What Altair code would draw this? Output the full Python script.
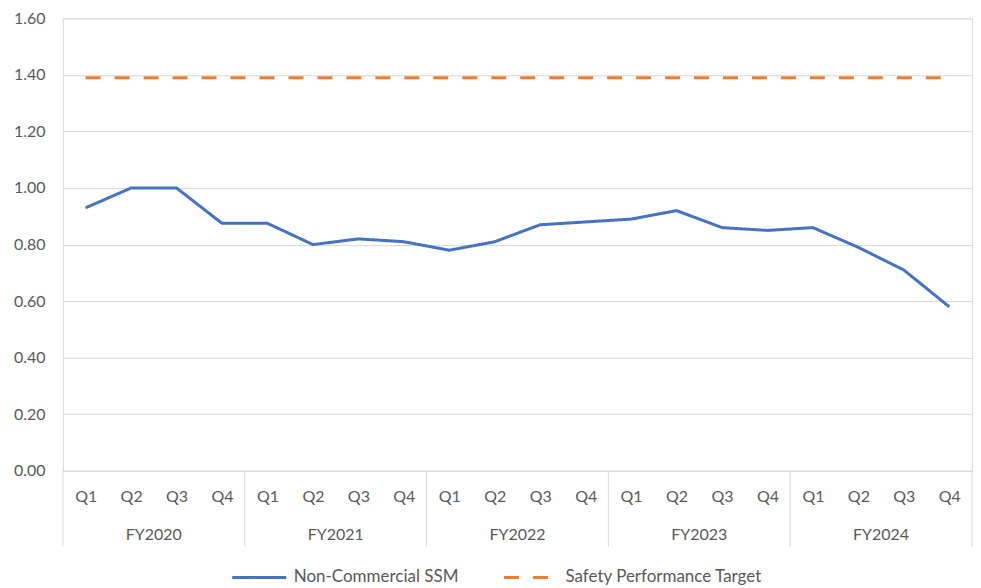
import altair as alt
import pandas as pd

# ---- data ----
fiscal_years = ["FY2020", "FY2021", "FY2022", "FY2023", "FY2024"]
quarters = ["Q1", "Q2", "Q3", "Q4"]
ssm_values = [0.93, 1.00, 1.00, 0.875, 0.875, 0.80, 0.82, 0.81, 0.78, 0.81,
              0.87, 0.88, 0.89, 0.92, 0.86, 0.85, 0.86, 0.79, 0.71, 0.58]
target_value = 1.39
series_names = ["Non-Commercial SSM", "Safety Performance Target"]
y_ticks = [0.0, 0.2, 0.4, 0.6, 0.8, 1.0, 1.2, 1.4, 1.6]

n = len(ssm_values)
nq = len(quarters)

rows = []
for i, v in enumerate(ssm_values):
    rows.append({"pos": i + 0.5, "value": v, "series": series_names[0]})
    rows.append({"pos": i + 0.5, "value": target_value, "series": series_names[1]})
df = pd.DataFrame(rows)

sep_df = pd.DataFrame({"pos": [nq * k for k in range(len(fiscal_years) + 1)]})
fy_df = pd.DataFrame({"pos": [nq * k + nq / 2 for k in range(len(fiscal_years))],
                      "fy": fiscal_years})

W, H = 910, 453
FONT = "Lato"
TXT = "#595959"
GRID = "#d9d9d9"
BLUE = "#4472C4"
ORANGE = "#ED7D31"

x_scale = alt.Scale(domain=[0, n], nice=False, zero=False)
q_expr = "[" + ",".join("'" + q + "'" for q in quarters) + "][floor(datum.value) % " + str(nq) + "]"
x_axis = alt.Axis(values=[i + 0.5 for i in range(n)], labelExpr=q_expr,
                  ticks=False, grid=False, domainColor=GRID, labelPadding=18,
                  labelFontSize=16, labelColor=TXT, labelFont=FONT, title=None)
x_enc = alt.X("pos:Q", scale=x_scale, axis=x_axis, title=None)

legend = alt.Legend(
    orient="none", legendX=186, legendY=549, direction="horizontal", title=None,
    symbolType="M-3,0H3", symbolSize=324, symbolStrokeWidth=3,
    labelFontSize=17, labelColor=TXT, labelFont=FONT, labelLimit=400,
    columnPadding=38, labelOffset=24,
)

lines = alt.Chart(df).mark_line(strokeWidth=3).encode(
    x=x_enc,
    y=alt.Y("value:Q", scale=alt.Scale(domain=[0, 1.6], nice=False),
            axis=alt.Axis(values=y_ticks, format=".2f", ticks=False, domain=False,
                          gridColor=GRID, labelPadding=18, labelFontSize=16,
                          labelColor=TXT, labelFont=FONT, title=None,
                          minExtent=55, maxExtent=55)),
    color=alt.Color("series:N", scale=alt.Scale(domain=series_names, range=[BLUE, ORANGE]),
                    legend=legend),
    strokeDash=alt.StrokeDash("series:N",
                              scale=alt.Scale(domain=series_names, range=[[1, 0], [15, 14]]),
                              legend=legend),
)

seps = alt.Chart(sep_df).mark_rule(color=GRID, strokeWidth=1).encode(
    x=x_enc,
    y=alt.value(H),
    y2=alt.value(H + 76),
)

fy_text = alt.Chart(fy_df).mark_text(fontSize=16, color=TXT, font=FONT, baseline="middle").encode(
    x=x_enc,
    y=alt.value(H + 64),
    text="fy:N",
)

chart = alt.layer(lines, seps, fy_text).properties(
    width=W, height=H,
    padding={"left": 0, "top": 2, "right": 0, "bottom": 0},
).configure_view(stroke=None).configure(font=FONT)

chart.save("out.html", embed_options={"renderer": "svg", "actions": False})
